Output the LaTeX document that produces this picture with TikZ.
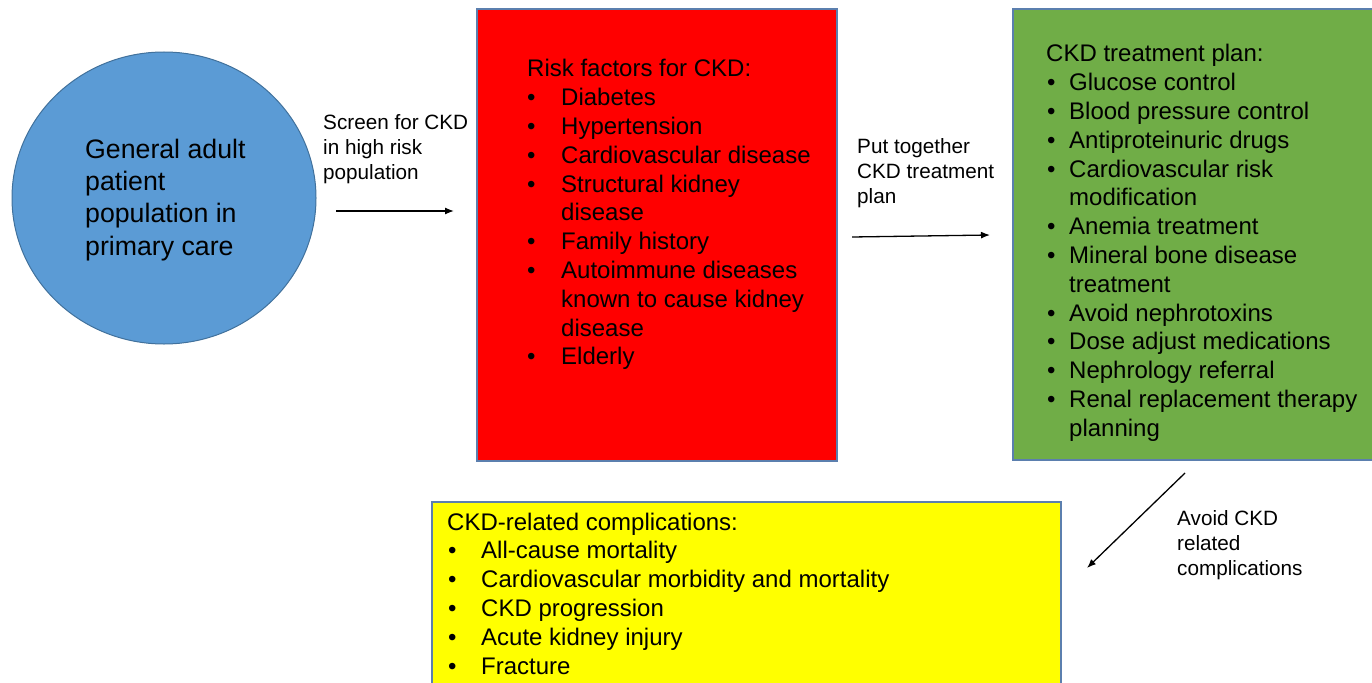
\documentclass[tikz,border=0pt]{standalone}
\usepackage{fontspec}
\setmainfont{Liberation Sans}
\usetikzlibrary{arrows.meta,shapes.geometric}
\definecolor{cblue}{HTML}{5B9BD5}
\definecolor{cblueline}{HTML}{41719C}
\definecolor{boxline}{HTML}{5B7FAE}
\definecolor{cgreen}{HTML}{70AD47}
\definecolor{cyellow}{HTML}{FFFF00}
\newcommand{\bl}{\textbullet}
\newcommand{\lines}[1]{\begin{tabular}[t]{@{}l@{}}#1\end{tabular}}
\tikzset{
  box/.style={draw=boxline, line width=1.2pt, anchor=north west, inner sep=0pt},
  listtext/.style={anchor=base west, inner sep=0pt, font=\fontsize{24}{28.8}\selectfont},
  lbl/.style={anchor=base west, inner sep=0pt, font=\fontsize{20.7}{25.3}\selectfont},
  arr/.style={line width=1.3pt, -{Latex[length=9pt,width=7pt]}},
}
\begin{document}
\begin{tikzpicture}[x=1pt,y=-1pt]
\useasboundingbox (0,0) rectangle (1372,682);
\begin{scope}
\clip (0,0) rectangle (1372,682);
% circle
\node[ellipse, draw=cblueline, line width=1pt, fill=cblue, minimum width=304pt, minimum height=292pt, inner sep=0pt] (circ) at (164,198) {};
\node[anchor=base west, inner sep=0pt, font=\fontsize{26.7}{32.4}\selectfont] (circtxt) at (85,158) {\lines{General adult\\patient\\population in\\primary care}};
% red box
\path[box, fill=red] (477,9) rectangle (837,461);
\node[box, draw=none, minimum width=360pt, minimum height=452pt] (red) at (477,9) {};
\node[listtext] (redtxt) at (527,77) {\begin{tabular}[t]{@{}p{34pt}@{}l@{}}
\multicolumn{2}{@{}l@{}}{Risk factors for CKD:}\\
\bl & Diabetes\\
\bl & Hypertension\\
\bl & Cardiovascular disease\\
\bl & Structural kidney\\
    & disease\\
\bl & Family history\\
\bl & Autoimmune diseases\\
    & known to cause kidney\\
    & disease\\
\bl & Elderly
\end{tabular}};
% green box
\path[box, fill=cgreen] (1013,9) rectangle (1390,460);
\node[box, draw=none, minimum width=360pt, minimum height=451pt] (green) at (1013,9) {};
\node[listtext] (greentxt) at (1046,62) {\begin{tabular}[t]{@{}p{23pt}@{}l@{}}
\multicolumn{2}{@{}l@{}}{CKD treatment plan:}\\
\hspace{1pt}\bl & Glucose control\\
\hspace{1pt}\bl & Blood pressure control\\
\hspace{1pt}\bl & Antiproteinuric drugs\\
\hspace{1pt}\bl & Cardiovascular risk\\
    & modification\\
\hspace{1pt}\bl & Anemia treatment\\
\hspace{1pt}\bl & Mineral bone disease\\
    & treatment\\
\hspace{1pt}\bl & Avoid nephrotoxins\\
\hspace{1pt}\bl & Dose adjust medications\\
\hspace{1pt}\bl & Nephrology referral\\
\hspace{1pt}\bl & Renal replacement therapy\\
    & planning
\end{tabular}};
% yellow box
\path[box, fill=cyellow] (432,502) rectangle (1061,700);
\node[box, draw=none, minimum width=629pt, minimum height=190pt] (yellowbox) at (432,502) {};
\node[listtext] (yellowtxt) at (447,530) {\begin{tabular}[t]{@{}p{34pt}@{}l@{}}
\multicolumn{2}{@{}l@{}}{CKD-related complications:}\\
\hspace{1pt}\bl & All-cause mortality\\
\hspace{1pt}\bl & Cardiovascular morbidity and mortality\\
\hspace{1pt}\bl & CKD progression\\
\hspace{1pt}\bl & Acute kidney injury\\
\hspace{1pt}\bl & Fracture
\end{tabular}};
% labels
\node[lbl] (l1) at (323,129) {\lines{Screen for CKD\\in high risk\\population}};
\node[lbl] (l2) at (857,153) {\lines{Put together\\CKD treatment\\plan}};
\node[lbl] (l3) at (1177,525) {\lines{Avoid CKD\\related\\complications}};
% arrows
\coordinate (a1s) at (336,211); \coordinate (a1e) at (454,211);
\coordinate (a2s) at (852,237); \coordinate (a2e) at (990,235);
\coordinate (a3s) at (1185,473); \coordinate (a3e) at (1087,568);
\draw[arr] (a1s) -- (a1e);
\draw[arr] (a2s) -- (a2e);
\draw[arr] (a3s) -- (a3e);
\end{scope}
\end{tikzpicture}
\end{document}
